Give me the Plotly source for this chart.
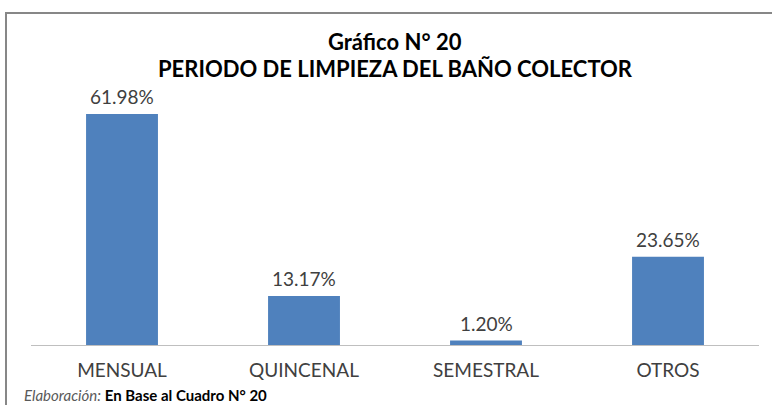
import plotly.graph_objects as go

categories = ["MENSUAL", "QUINCENAL", "SEMESTRAL", "OTROS"]
values = [61.98, 13.17, 1.20, 23.65]
labels = ["61.98%", "13.17%", "1.20%", "23.65%"]

title_line1 = "Gráfico N° 20"
title_line2 = "PERIODO DE LIMPIEZA DEL BAÑO COLECTOR"

FONT = "Lato"
W, H = 772, 405
L, R, T, B = 31, 13, 84, 60
plot_w = W - L - R
plot_h = H - T - B

def px_x(x):
    return (x - L) / plot_w

def px_y(y):
    return (H - B - y) / plot_h

fig = go.Figure()
fig.add_trace(go.Bar(
    x=categories, y=values,
    marker=dict(color="#4F81BD", line=dict(width=0)),
    hoverinfo="skip",
))

annotations = []
for c, v, t in zip(categories, values, labels):
    annotations.append(dict(
        x=c, y=v, xref="x", yref="y", text=t, showarrow=False,
        yanchor="middle", yshift=17,
        font=dict(family=FONT, size=19, color="#404040"),
    ))

annotations.append(dict(
    x=0.5, y=px_y(42), xref="paper", yref="paper", text=title_line1,
    showarrow=False, yanchor="middle",
    font=dict(family=FONT, size=22, color="#000000", weight="bold"),
))
annotations.append(dict(
    x=0.5, y=px_y(69), xref="paper", yref="paper", text=title_line2,
    showarrow=False, yanchor="middle",
    font=dict(family=FONT, size=22, color="#000000", weight="bold"),
))
annotations.append(dict(
    x=px_x(22), y=px_y(395), xref="paper", yref="paper",
    text="<i><span style='color:#595959'>Elaboración:</span></i> <b>En Base al Cuadro N° 20</b>",
    showarrow=False, xanchor="left", yanchor="middle",
    font=dict(family=FONT, size=15, color="#000000"),
))

fig.update_layout(
    width=W, height=H,
    margin=dict(l=L, r=R, t=T, b=B, pad=0),
    paper_bgcolor="white", plot_bgcolor="white",
    bargap=0.605,
    showlegend=False,
    annotations=annotations,
    shapes=[dict(
        type="rect", xref="paper", yref="paper",
        x0=px_x(6), x1=1.2, y0=-0.6, y1=px_y(13),
        line=dict(color="#878787", width=2), fillcolor="rgba(0,0,0,0)",
        layer="below",
    )],
    xaxis=dict(
        showline=True, linecolor="#BFBFBF", linewidth=1,
        ticks="outside", ticklen=8, tickcolor="rgba(0,0,0,0)",
        tickfont=dict(family=FONT, size=19, color="#404040"),
        showgrid=False, zeroline=False, fixedrange=True,
    ),
    yaxis=dict(range=[0, 70], visible=False, fixedrange=True),
)

fig.write_html(
    "out.html",
    config={"displayModeBar": False, "staticPlot": True},
    post_script="document.body.style.margin='0';document.body.style.overflow='hidden';",
)
